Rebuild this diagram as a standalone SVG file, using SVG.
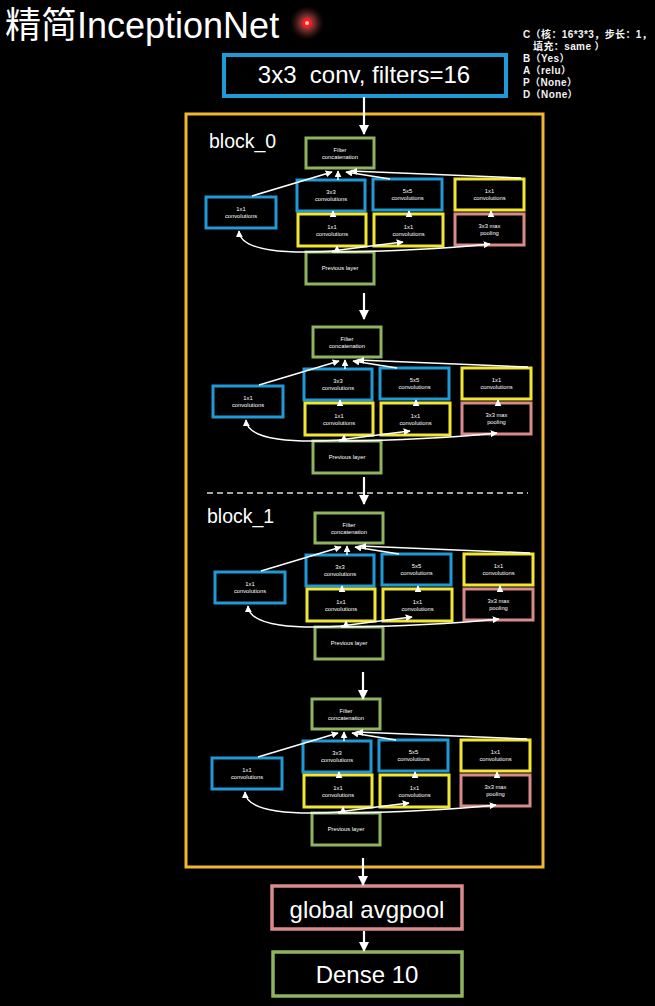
<svg xmlns="http://www.w3.org/2000/svg" width="655" height="1006" viewBox="0 0 655 1006">
<defs>
<marker id="ah" viewBox="0 0 10 10" refX="9" refY="5" markerWidth="10" markerHeight="10" markerUnits="userSpaceOnUse" orient="auto"><path d="M0,0 L10,5 L0,10 z" fill="#fff"/></marker>
<marker id="as" viewBox="0 0 10 10" refX="9" refY="5" markerWidth="7" markerHeight="7" markerUnits="userSpaceOnUse" orient="auto"><path d="M0,0 L10,5 L0,10 z" fill="#fff"/></marker>
<radialGradient id="glow" cx="0.5" cy="0.5" r="0.5">
<stop offset="0" stop-color="#ff4040" stop-opacity="0.95"/>
<stop offset="0.45" stop-color="#d05050" stop-opacity="0.55"/>
<stop offset="1" stop-color="#703030" stop-opacity="0"/>
</radialGradient>
<style>
text{font-family:"Liberation Sans","Noto Sans CJK SC",sans-serif;fill:#fff}
.t{font-size:5.8px;text-anchor:middle}
.big{font-size:24px;text-anchor:middle}
.ann{font-size:10px;font-weight:bold;letter-spacing:0.4px;fill:#f2f2f2}
.b{fill:#000;stroke:#1e9ad6;stroke-width:3}
.y{fill:#000;stroke:#f2e632;stroke-width:3}
.p{fill:#000;stroke:#d98a8a;stroke-width:3}
.g{fill:#000;stroke:#8fb35f;stroke-width:3}
.c{fill:none;stroke:#fff;stroke-width:1.5}
.cs{marker-end:url(#as)}
.cm{fill:none;stroke:#fff;stroke-width:2.2;marker-end:url(#ah)}
</style>
</defs>
<rect width="655" height="1006" fill="#000"/>

<g id="title">
<text x="5" y="38" style="font-size:36px">精简InceptionNet</text>
<circle cx="307" cy="23" r="17" fill="url(#glow)"/>
<circle cx="307" cy="23" r="5" fill="#ff1a1a"/>
<circle cx="307" cy="23" r="2" fill="#ffc8c8"/>
</g>

<g id="annotation">
<text class="ann" x="523" y="38">C（核：16*3*3，步长：1，</text>
<text class="ann" x="533" y="50">填充：same ）</text>
<text class="ann" x="523" y="62">B（Yes）</text>
<text class="ann" x="523" y="74">A（relu）</text>
<text class="ann" x="523" y="86">P（None）</text>
<text class="ann" x="523" y="98">D（None）</text>
</g>

<g id="conv">
<rect x="224" y="55" width="282" height="41" fill="#000" stroke="#1e9ad6" stroke-width="4"/>
<text class="big" x="364" y="83" xml:space="preserve">3x3  conv, filters=16</text>
</g>

<g id="blocks">
<rect x="186" y="114" width="357" height="753" fill="none" stroke="#f2b731" stroke-width="3"/>
<text x="209" y="148" style="font-size:19.5px">block_0</text>
<text x="207" y="523" style="font-size:19.5px">block_1</text>
<line x1="207" y1="493" x2="528" y2="493" stroke="#ddd" stroke-width="1.5" stroke-dasharray="6 4"/>
</g>

<g id="m1">
<g id="m1-filter"><rect class="g" x="306" y="138" width="68" height="30"/><text class="t" x="340" y="151.5">Filter</text><text class="t" x="340" y="158.5">concatenation</text></g>
<g id="m1-left"><rect class="b" x="206" y="197" width="70" height="31"/><text class="t" x="241" y="211">1x1</text><text class="t" x="241" y="218">convolutions</text></g>
<g id="m1-c3"><rect class="b" x="297" y="180" width="68" height="31"/><text class="t" x="331" y="194">3x3</text><text class="t" x="331" y="201">convolutions</text></g>
<g id="m1-c5"><rect class="b" x="373" y="179" width="69" height="31"/><text class="t" x="407.5" y="193">5x5</text><text class="t" x="407.5" y="200">convolutions</text></g>
<g id="m1-r1"><rect class="y" x="455" y="179" width="69" height="31"/><text class="t" x="489.5" y="193">1x1</text><text class="t" x="489.5" y="200">convolutions</text></g>
<g id="m1-y1a"><rect class="y" x="298" y="214" width="68" height="32"/><text class="t" x="332" y="228.5">1x1</text><text class="t" x="332" y="235.5">convolutions</text></g>
<g id="m1-y1b"><rect class="y" x="374" y="214" width="69" height="32"/><text class="t" x="408.5" y="228.5">1x1</text><text class="t" x="408.5" y="235.5">convolutions</text></g>
<g id="m1-pool"><rect class="p" x="455" y="214" width="69" height="31"/><text class="t" x="489.5" y="228">3x3 max</text><text class="t" x="489.5" y="235">pooling</text></g>
<g id="m1-prev"><rect class="g" x="306" y="252" width="68" height="32"/><text class="t" x="340" y="270">Previous layer</text></g>
<g id="m1-connectors" class="c">
<path class="cs" d="M252,196 L332,172"/>
<path class="cs" d="M338,180 L338,171"/>
<path class="cs" d="M390,179 L346,172"/>
<path class="cs" d="M521,178 L351,171"/>
<path class="cs" d="M333,217 L333,211"/>
<path class="cs" d="M409,217 L409,211"/>
<path class="cs" d="M491,217 L491,211"/>
<path class="cs" d="M337,252 L337,246"/>
<path class="cs" d="M337,251 C290,254 240,252 239,231"/>
<path class="cs" d="M332,251 Q370,246 403,242"/>
<path class="cs" d="M332,252 Q420,251 490,244"/>
</g>
</g>

<g id="m2" transform="translate(7,189)">
<g id="m2-filter"><rect class="g" x="306" y="138" width="68" height="30"/><text class="t" x="340" y="151.5">Filter</text><text class="t" x="340" y="158.5">concatenation</text></g>
<g id="m2-left"><rect class="b" x="206" y="197" width="70" height="31"/><text class="t" x="241" y="211">1x1</text><text class="t" x="241" y="218">convolutions</text></g>
<g id="m2-c3"><rect class="b" x="297" y="180" width="68" height="31"/><text class="t" x="331" y="194">3x3</text><text class="t" x="331" y="201">convolutions</text></g>
<g id="m2-c5"><rect class="b" x="373" y="179" width="69" height="31"/><text class="t" x="407.5" y="193">5x5</text><text class="t" x="407.5" y="200">convolutions</text></g>
<g id="m2-r1"><rect class="y" x="455" y="179" width="69" height="31"/><text class="t" x="489.5" y="193">1x1</text><text class="t" x="489.5" y="200">convolutions</text></g>
<g id="m2-y1a"><rect class="y" x="298" y="214" width="68" height="32"/><text class="t" x="332" y="228.5">1x1</text><text class="t" x="332" y="235.5">convolutions</text></g>
<g id="m2-y1b"><rect class="y" x="374" y="214" width="69" height="32"/><text class="t" x="408.5" y="228.5">1x1</text><text class="t" x="408.5" y="235.5">convolutions</text></g>
<g id="m2-pool"><rect class="p" x="455" y="214" width="69" height="31"/><text class="t" x="489.5" y="228">3x3 max</text><text class="t" x="489.5" y="235">pooling</text></g>
<g id="m2-prev"><rect class="g" x="306" y="252" width="68" height="32"/><text class="t" x="340" y="270">Previous layer</text></g>
<g id="m2-connectors" class="c">
<path class="cs" d="M252,196 L332,172"/>
<path class="cs" d="M338,180 L338,171"/>
<path class="cs" d="M390,179 L346,172"/>
<path class="cs" d="M521,178 L351,171"/>
<path class="cs" d="M333,217 L333,211"/>
<path class="cs" d="M409,217 L409,211"/>
<path class="cs" d="M491,217 L491,211"/>
<path class="cs" d="M337,252 L337,246"/>
<path class="cs" d="M337,251 C290,254 240,252 239,231"/>
<path class="cs" d="M332,251 Q370,246 403,242"/>
<path class="cs" d="M332,252 Q420,251 490,244"/>
</g>
</g>

<g id="m3" transform="translate(9,375)">
<g id="m3-filter"><rect class="g" x="306" y="138" width="68" height="30"/><text class="t" x="340" y="151.5">Filter</text><text class="t" x="340" y="158.5">concatenation</text></g>
<g id="m3-left"><rect class="b" x="206" y="197" width="70" height="31"/><text class="t" x="241" y="211">1x1</text><text class="t" x="241" y="218">convolutions</text></g>
<g id="m3-c3"><rect class="b" x="297" y="180" width="68" height="31"/><text class="t" x="331" y="194">3x3</text><text class="t" x="331" y="201">convolutions</text></g>
<g id="m3-c5"><rect class="b" x="373" y="179" width="69" height="31"/><text class="t" x="407.5" y="193">5x5</text><text class="t" x="407.5" y="200">convolutions</text></g>
<g id="m3-r1"><rect class="y" x="455" y="179" width="69" height="31"/><text class="t" x="489.5" y="193">1x1</text><text class="t" x="489.5" y="200">convolutions</text></g>
<g id="m3-y1a"><rect class="y" x="298" y="214" width="68" height="32"/><text class="t" x="332" y="228.5">1x1</text><text class="t" x="332" y="235.5">convolutions</text></g>
<g id="m3-y1b"><rect class="y" x="374" y="214" width="69" height="32"/><text class="t" x="408.5" y="228.5">1x1</text><text class="t" x="408.5" y="235.5">convolutions</text></g>
<g id="m3-pool"><rect class="p" x="455" y="214" width="69" height="31"/><text class="t" x="489.5" y="228">3x3 max</text><text class="t" x="489.5" y="235">pooling</text></g>
<g id="m3-prev"><rect class="g" x="306" y="252" width="68" height="32"/><text class="t" x="340" y="270">Previous layer</text></g>
<g id="m3-connectors" class="c">
<path class="cs" d="M252,196 L332,172"/>
<path class="cs" d="M338,180 L338,171"/>
<path class="cs" d="M390,179 L346,172"/>
<path class="cs" d="M521,178 L351,171"/>
<path class="cs" d="M333,217 L333,211"/>
<path class="cs" d="M409,217 L409,211"/>
<path class="cs" d="M491,217 L491,211"/>
<path class="cs" d="M337,252 L337,246"/>
<path class="cs" d="M337,251 C290,254 240,252 239,231"/>
<path class="cs" d="M332,251 Q370,246 403,242"/>
<path class="cs" d="M332,252 Q420,251 490,244"/>
</g>
</g>

<g id="m4" transform="translate(6,561)">
<g id="m4-filter"><rect class="g" x="306" y="138" width="68" height="30"/><text class="t" x="340" y="151.5">Filter</text><text class="t" x="340" y="158.5">concatenation</text></g>
<g id="m4-left"><rect class="b" x="206" y="197" width="70" height="31"/><text class="t" x="241" y="211">1x1</text><text class="t" x="241" y="218">convolutions</text></g>
<g id="m4-c3"><rect class="b" x="297" y="180" width="68" height="31"/><text class="t" x="331" y="194">3x3</text><text class="t" x="331" y="201">convolutions</text></g>
<g id="m4-c5"><rect class="b" x="373" y="179" width="69" height="31"/><text class="t" x="407.5" y="193">5x5</text><text class="t" x="407.5" y="200">convolutions</text></g>
<g id="m4-r1"><rect class="y" x="455" y="179" width="69" height="31"/><text class="t" x="489.5" y="193">1x1</text><text class="t" x="489.5" y="200">convolutions</text></g>
<g id="m4-y1a"><rect class="y" x="298" y="214" width="68" height="32"/><text class="t" x="332" y="228.5">1x1</text><text class="t" x="332" y="235.5">convolutions</text></g>
<g id="m4-y1b"><rect class="y" x="374" y="214" width="69" height="32"/><text class="t" x="408.5" y="228.5">1x1</text><text class="t" x="408.5" y="235.5">convolutions</text></g>
<g id="m4-pool"><rect class="p" x="455" y="214" width="69" height="31"/><text class="t" x="489.5" y="228">3x3 max</text><text class="t" x="489.5" y="235">pooling</text></g>
<g id="m4-prev"><rect class="g" x="306" y="252" width="68" height="32"/><text class="t" x="340" y="270">Previous layer</text></g>
<g id="m4-connectors" class="c">
<path class="cs" d="M252,196 L332,172"/>
<path class="cs" d="M338,180 L338,171"/>
<path class="cs" d="M390,179 L346,172"/>
<path class="cs" d="M521,178 L351,171"/>
<path class="cs" d="M333,217 L333,211"/>
<path class="cs" d="M409,217 L409,211"/>
<path class="cs" d="M491,217 L491,211"/>
<path class="cs" d="M337,252 L337,246"/>
<path class="cs" d="M337,251 C290,254 240,252 239,231"/>
<path class="cs" d="M332,251 Q370,246 403,242"/>
<path class="cs" d="M332,252 Q420,251 490,244"/>
</g>
</g>

<g id="avgpool">
<rect x="272" y="886" width="190" height="43" fill="#000" stroke="#d98a8a" stroke-width="3.5"/>
<text class="big" x="367" y="918">global avgpool</text>
</g>
<g id="dense">
<rect x="273" y="952" width="189" height="44" fill="#000" stroke="#8fb35f" stroke-width="3.5"/>
<text class="big" x="367" y="983">Dense 10</text>
</g>

<g id="connectors">
<path class="cm" d="M364,97 L364,134"/>
<path class="cm" d="M364,293 L364,319"/>
<path class="cm" d="M364,477 L364,504"/>
<path class="cm" d="M363,672 L363,699"/>
<path class="cm" d="M363,858 L363,885"/>
<path class="cm" d="M364,931 L364,951"/>
</g>
</svg>
